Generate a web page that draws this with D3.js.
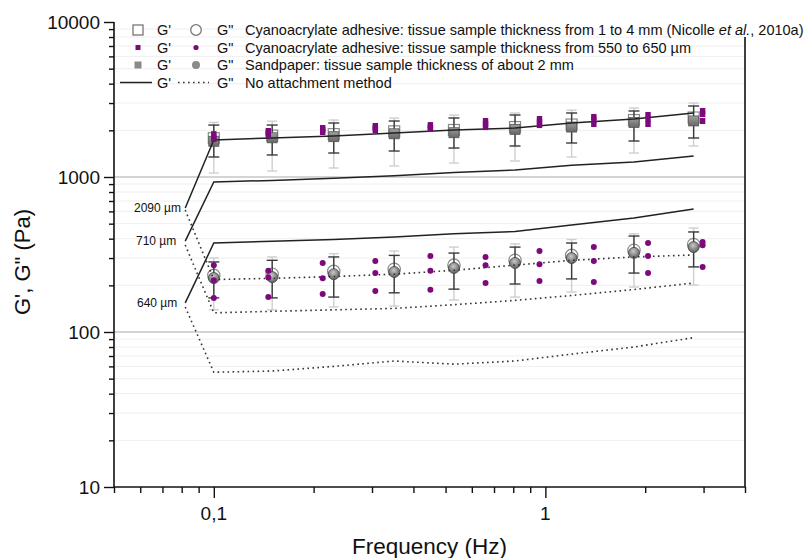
<!DOCTYPE html>
<html><head><meta charset="utf-8">
<script src="https://cdn.jsdelivr.net/npm/d3@7/dist/d3.min.js"></script>
<style>
body{margin:0;background:#fff}
svg{display:block}
text{font-family:"Liberation Sans",Arial,Helvetica,sans-serif;fill:#111}
</style>
</head><body>
<svg id="chart" width="808" height="558"></svg>
<script>
// ---------- data ----------
const xTickMinor = [0.05,0.06,0.07,0.08,0.09,0.2,0.3,0.4,0.5,0.6,0.7,0.8,0.9,2,3,4];
const xTickMajor = [0.1,1];
const xTickLabels = ["0,1","1"];
const yTickMajor = [10,100,1000,10000];
const yTickLabels = ["10","100","1000","10000"];

// Sandpaper (filled grey) and Nicolle et al. (open) – same frequencies
const refFreq = [0.1,0.15,0.23,0.35,0.53,0.81,1.2,1.85,2.8];
const sandG1   = [1700,1790,1820,1900,1930,2030,2100,2250,2300];
const sandG1Hi = [2163,2163,2230,2297,2403,2512,2588,2666,2871];
const sandG1Lo = [1346,1387,1428,1471,1538,1585,1657,1707,1785];
const nicG1    = [1780,1850,1890,1970,2010,2100,2180,2330,2420];
const nicG1Hi  = [2250,2290,2330,2400,2512,2588,2700,2788,3000];
const nicG1Lo  = [1061,1093,1143,1178,1231,1268,1346,1428,1585];
const sandG2   = [223,226,236,244,259,279,300,324,353];
const sandG2Hi = [283,290,305,312,323,353,375,416,442];
const sandG2Lo = [166,166,168,179,189,204,220,240,263];
const nicG2    = [232,236,246,254,270,290,312,337,367];
const nicG2Hi  = [300,305,320,333,353,370,395,430,469];
const nicG2Lo  = [139,139,145,147,161,168,181,195,201];

// Cyanoacrylate 550-650 µm (purple), three samples
const cyaFreq = [0.1,0.146,0.213,0.307,0.45,0.66,0.96,1.4,2.04,2.98];
const cyaG1a = [1890,1981,2070,2133,2163,2297,2367,2440,2512,2666];
const cyaG1b = [1820,1923,2010,2070,2100,2197,2263,2333,2367,2547];
const cyaG1c = [1760,1866,1950,2010,2040,2100,2163,2197,2197,2297];
const cyaG2a = [270,248,279,287,309,305,333,353,375,381];
const cyaG2b = [216,225,222,240,248,270,274,287,309,363];
const cyaG2c = [166,168,176,184,187,207,213,210,240,263];

// No attachment method (lines), starting from the thickness label
const lineFreq = [0.082,0.1,0.15,0.23,0.35,0.53,0.81,1.2,1.85,2.8];
const na2090G1 = [631,1734,1786,1841,1923,2010,2070,2228,2367,2588];
const na2090G2 = [612,218,222,228,236,250,270,290,305,314];
const na710G1  = [386,929,950,980,1020,1070,1110,1190,1250,1365];
const na710G2  = [364,133,136,139,142,150,160,172,188,207];
const na640G1  = [154,375,385,395,410,430,445,490,543,622];
const na640G2  = [145,55,56,60,65,62,65,72,80,92];
const thicknessLabels = ["2090 \u00b5m","710 \u00b5m","640 \u00b5m"];

const legendTexts = [
  "Cyanoacrylate adhesive: tissue sample thickness from 1 to 4 mm (Nicolle ",
  "Cyanoacrylate adhesive: tissue sample thickness from 550 to 650 \u00b5m",
  "Sandpaper: tissue sample thickness of about 2 mm",
  "No attachment method"
];

// ---------- layout ----------
const svg = d3.select("#chart");
const L = 114, R = 745, T = 22, B = 487;
const x = d3.scaleLog().domain([0.05,4]).range([L,R]);
const y = d3.scaleLog().domain([10,10000]).range([B,T]);

const purple = "#7d0a7d";

// defs: gradient for grey markers
const defs = svg.append("defs");
const rg = defs.append("radialGradient").attr("id","gball").attr("cx","45%").attr("cy","35%").attr("r","65%");
rg.append("stop").attr("offset","0%").attr("stop-color","#c8c8c8");
rg.append("stop").attr("offset","100%").attr("stop-color","#5e5e5e");
const lg = defs.append("linearGradient").attr("id","gsq").attr("x1","0").attr("y1","0").attr("x2","0").attr("y2","1");
lg.append("stop").attr("offset","0%").attr("stop-color","#a0a0a0");
lg.append("stop").attr("offset","100%").attr("stop-color","#666");

// ---------- grid ----------
const minorY = [];
[10,100,1000].forEach(d => { for (let k=2;k<=9;k++) minorY.push(d*k); });
svg.append("g").selectAll("line").data(minorY).join("line")
  .attr("x1",L).attr("x2",R).attr("y1",d=>y(d)).attr("y2",d=>y(d))
  .attr("stroke","#efefef").attr("stroke-width",1);
svg.append("g").selectAll("line").data([100,1000]).join("line")
  .attr("x1",L).attr("x2",R).attr("y1",d=>y(d)).attr("y2",d=>y(d))
  .attr("stroke","#c6c6c6").attr("stroke-width",1.6);

// ---------- lines (no attachment) ----------
const lineGen = d3.line().x(d=>x(d[0])).y(d=>y(d[1]));
const mk = arr => lineFreq.map((f,i)=>[f,arr[i]]);
const solidSets = [na2090G1,na710G1,na640G1];
const dotSets = [na2090G2,na710G2,na640G2];

// ---------- error bars helper ----------
function errBars(g, freqs, hi, lo, color, width, cap){
  const gg = g.append("g").attr("stroke",color).attr("stroke-width",width);
  freqs.forEach((f,i)=>{
    const cx = x(f);
    gg.append("line").attr("x1",cx).attr("x2",cx).attr("y1",y(hi[i])).attr("y2",y(lo[i]));
    gg.append("line").attr("x1",cx-cap).attr("x2",cx+cap).attr("y1",y(hi[i])).attr("y2",y(hi[i]));
    gg.append("line").attr("x1",cx-cap).attr("x2",cx+cap).attr("y1",y(lo[i])).attr("y2",y(lo[i]));
  });
}

const gData = svg.append("g");
// Nicolle (light) error bars + open markers
errBars(gData, refFreq, nicG1Hi, nicG1Lo, "#cfcfcf", 1.4, 5);
errBars(gData, refFreq, nicG2Hi, nicG2Lo, "#cfcfcf", 1.4, 5);
gData.append("g").selectAll("rect").data(refFreq).join("rect")
  .attr("x",d=>x(d)-5.5).attr("y",(d,i)=>y(nicG1[i])-5.5).attr("width",11).attr("height",11)
  .attr("fill","#fff").attr("stroke","#8a8a8a").attr("stroke-width",1.2);
gData.append("g").selectAll("circle").data(refFreq).join("circle")
  .attr("cx",d=>x(d)).attr("cy",(d,i)=>y(nicG2[i])).attr("r",6.2)
  .attr("fill","#fff").attr("stroke","#8a8a8a").attr("stroke-width",1.2);
// Sandpaper dark error bars + grey markers
errBars(gData, refFreq, sandG1Hi, sandG1Lo, "#3a3a3a", 1.4, 5.5);
errBars(gData, refFreq, sandG2Hi, sandG2Lo, "#3a3a3a", 1.4, 5.5);
gData.append("g").selectAll("rect").data(refFreq).join("rect")
  .attr("x",d=>x(d)-5).attr("y",(d,i)=>y(sandG1[i])-5).attr("width",10).attr("height",10)
  .attr("fill","url(#gsq)").attr("stroke","#555").attr("stroke-width",0.8);
gData.append("g").selectAll("circle").data(refFreq).join("circle")
  .attr("cx",d=>x(d)).attr("cy",(d,i)=>y(sandG2[i])).attr("r",5.5)
  .attr("fill","url(#gball)").attr("stroke","#444").attr("stroke-width",0.8);

// lines over grey markers
const gLines = svg.append("g");
solidSets.forEach(s => gLines.append("path").attr("d",lineGen(mk(s)))
  .attr("fill","none").attr("stroke","#222").attr("stroke-width",1.5));
dotSets.forEach(s => gLines.append("path").attr("d",lineGen(mk(s)))
  .attr("fill","none").attr("stroke","#333").attr("stroke-width",1.6)
  .attr("stroke-dasharray","1.6,3.4"));

// purple markers
const gP = svg.append("g").attr("fill",purple);
[cyaG1a,cyaG1b,cyaG1c].forEach(arr => {
  gP.append("g").selectAll("rect").data(cyaFreq).join("rect")
    .attr("x",d=>x(d)-2.7).attr("y",(d,i)=>y(arr[i])-3).attr("width",5.4).attr("height",6);
});
[cyaG2a,cyaG2b,cyaG2c].forEach(arr => {
  gP.append("g").selectAll("circle").data(cyaFreq).join("circle")
    .attr("cx",d=>x(d)).attr("cy",(d,i)=>y(arr[i])).attr("r",3);
});

// thickness labels
const labelX = [134,136,137];
thicknessLabels.forEach((t,i)=>{
  svg.append("text").attr("x",labelX[i]).attr("y",y(solidSets[i][0])+4)
    .attr("font-size",12).text(t);
});

// ---------- axes ----------
const axG = svg.append("g").attr("transform",`translate(0,${B})`);
axG.append("g").call(d3.axisBottom(x).tickValues(xTickMinor).tickSize(6).tickFormat(""));
axG.append("g").call(d3.axisBottom(x).tickValues(xTickMajor).tickSize(11).tickFormat(""));
axG.selectAll("path.domain").remove();
axG.selectAll("line").attr("stroke","#111").attr("stroke-width",1.4);
axG.append("line").attr("x1",L).attr("x2",R).attr("stroke","#111").attr("stroke-width",1.6);
xTickMajor.forEach((v,i)=>{
  svg.append("text").attr("x",x(v)).attr("y",520).attr("text-anchor","middle")
    .attr("font-size",19).text(xTickLabels[i]);
});

const minorYTicks = [];
[10,100,1000].forEach(d => { for (let k=2;k<=9;k++) minorYTicks.push(d*k); });
const ayG = svg.append("g").attr("transform",`translate(${L},0)`);
ayG.append("g").call(d3.axisLeft(y).tickValues(minorYTicks).tickSize(5).tickFormat(""));
ayG.append("g").call(d3.axisLeft(y).tickValues(yTickMajor).tickSize(10).tickFormat(""));
ayG.selectAll("path.domain").remove();
ayG.selectAll("line").attr("stroke","#111").attr("stroke-width",1.4);
ayG.selectAll("g.tick line").attr("x2", function(){ return +d3.select(this).attr("x2"); });
ayG.append("line").attr("y1",T).attr("y2",B).attr("stroke","#111").attr("stroke-width",1.6);
yTickMajor.forEach((v,i)=>{
  svg.append("text").attr("x",100).attr("y",y(v)+7).attr("text-anchor","end")
    .attr("font-size",19).text(yTickLabels[i]);
});
// right frame
svg.append("line").attr("x1",R).attr("x2",R).attr("y1",37).attr("y2",B)
  .attr("stroke","#111").attr("stroke-width",1.6);

// axis titles
svg.append("text").attr("x",(L+R)/2).attr("y",554).attr("text-anchor","middle")
  .attr("font-size",22.5).text("Frequency (Hz)");
svg.append("text").attr("transform","translate(30,262) rotate(-90)").attr("text-anchor","middle")
  .attr("font-size",22).text("G', G\" (Pa)");

// ---------- legend ----------
const rowsY = [30,47.5,65,82.5];
const lgG = svg.append("g");
const fs = 14.5;
function gLabels(yy){
  lgG.append("text").attr("x",157).attr("y",yy+5).attr("font-size",fs).text("G'");
  lgG.append("text").attr("x",217).attr("y",yy+5).attr("font-size",fs).text("G\"");
}
// row1
lgG.append("rect").attr("x",133).attr("y",rowsY[0]-5).attr("width",10).attr("height",10)
  .attr("fill","#fff").attr("stroke","#777").attr("stroke-width",1.3);
lgG.append("circle").attr("cx",196).attr("cy",rowsY[0]).attr("r",5.3)
  .attr("fill","#fff").attr("stroke","#777").attr("stroke-width",1.3);
gLabels(rowsY[0]);
const t1 = lgG.append("text").attr("x",245).attr("y",rowsY[0]+5).attr("font-size",fs);
t1.append("tspan").text(legendTexts[0]);
t1.append("tspan").attr("font-style","italic").text("et al.");
t1.append("tspan").text(", 2010a)");
// row2
lgG.append("rect").attr("x",135.5).attr("y",rowsY[1]-2.5).attr("width",5).attr("height",5).attr("fill",purple);
lgG.append("circle").attr("cx",196).attr("cy",rowsY[1]).attr("r",2.6).attr("fill",purple);
gLabels(rowsY[1]);
lgG.append("text").attr("x",245).attr("y",rowsY[1]+5).attr("font-size",fs).text(legendTexts[1]);
// row3
lgG.append("rect").attr("x",134.5).attr("y",rowsY[2]-3.5).attr("width",7).attr("height",7).attr("fill","#8a8a8a");
lgG.append("circle").attr("cx",196).attr("cy",rowsY[2]).attr("r",4).attr("fill","#8a8a8a");
gLabels(rowsY[2]);
lgG.append("text").attr("x",245).attr("y",rowsY[2]+5).attr("font-size",fs).text(legendTexts[2]);
// row4
lgG.append("line").attr("x1",120).attr("x2",152).attr("y1",rowsY[3]).attr("y2",rowsY[3])
  .attr("stroke","#222").attr("stroke-width",1.5);
lgG.append("line").attr("x1",178).attr("x2",209).attr("y1",rowsY[3]).attr("y2",rowsY[3])
  .attr("stroke","#333").attr("stroke-width",1.6).attr("stroke-dasharray","1.6,3.4");
gLabels(rowsY[3]);
lgG.append("text").attr("x",245).attr("y",rowsY[3]+5).attr("font-size",fs).text(legendTexts[3]);
</script>
</body></html>
